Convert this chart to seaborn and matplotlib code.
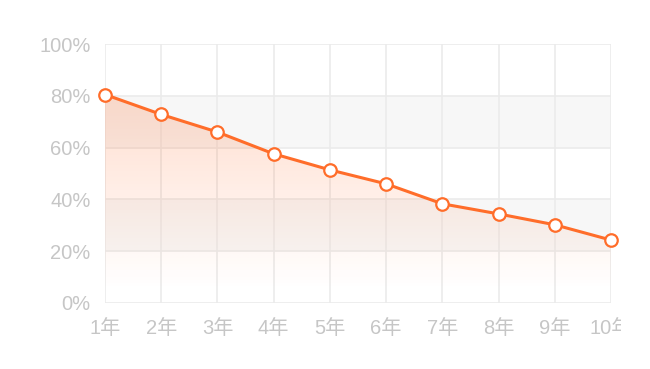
import numpy as np
import pandas as pd
import matplotlib
matplotlib.use("Agg")
import matplotlib.pyplot as plt
import seaborn as sns
from matplotlib.patches import Rectangle

years = ["1年", "2年", "3年", "4年", "5年", "6年", "7年", "8年", "9年", "10年"]
values = [80.5, 72.8, 66.0, 57.6, 51.4, 46.0, 38.3, 34.4, 30.2, 24.3]
y_ticks = [0, 20, 40, 60, 80, 100]
y_labels = ["0%", "20%", "40%", "60%", "80%", "100%"]

sns.set_theme(style="white")
plt.rcParams['font.family'] = ['Liberation Sans', 'Noto Sans CJK SC', 'DejaVu Sans']

line_color = "#ff6d2a"
grid_color = "#ebebeb"
label_color = "#c6c6c6"

df = pd.DataFrame({"idx": np.arange(len(years)), "value": values})

fig = plt.figure(figsize=(6.5, 3.69), dpi=100)
ax = fig.add_axes([105/650, 1-303/369, (611-105)/650, (303-44)/369])

# alternating bands
for lo in (20, 60):
    ax.axhspan(lo, lo + 20, color="#f7f7f7", zorder=0, lw=0)

# grid
for t in y_ticks:
    ax.axhline(t, color=grid_color, lw=1.2, zorder=1)
for i in range(len(years)):
    ax.axvline(i, color=grid_color, lw=1.2, zorder=1)

# gradient fill under the line
poly = ax.fill_between(df["idx"], df["value"], 0, color="none", lw=0)
rgba = np.zeros((256, 1, 4))
rgba[..., 0] = 1.0
rgba[..., 1] = 0.45
rgba[..., 2] = 0.2
ys = np.linspace(0, 81, 256).reshape(-1, 1)
alpha = np.clip((ys - 5) / (81 - 5), 0, 1) * 0.24
rgba[..., 3] = alpha
im = ax.imshow(rgba, extent=[0, 9, 0, 81], origin="lower", aspect="auto", zorder=2)
path = poly.get_paths()[0]
im.set_clip_path(path, transform=ax.transData)

sns.lineplot(data=df, x="idx", y="value", ax=ax, color=line_color, lw=2.2,
             marker="o", markersize=9, markerfacecolor="white",
             markeredgecolor=line_color, markeredgewidth=1.6, zorder=5, clip_on=False)

ax.set_xlim(0, 9)
ax.set_ylim(0, 100)
ax.set_xticks(range(len(years)))
ax.set_xticklabels(years)
ax.set_yticks(y_ticks)
ax.set_yticklabels(y_labels)
ax.tick_params(axis="both", length=0, colors=label_color, labelsize=14.5)
ax.tick_params(axis="x", pad=11.5)
ax.tick_params(axis="y", pad=10.5)
ax.set_xlabel("")
ax.set_ylabel("")
for s in ax.spines.values():
    s.set_visible(False)
ax.grid(False)

# clip right edge like the reference
fig.patches.append(Rectangle((621/650, 0), 1, 1, transform=fig.transFigure,
                             facecolor="white", edgecolor="none", zorder=100))

fig.savefig("out.png", dpi=100)
